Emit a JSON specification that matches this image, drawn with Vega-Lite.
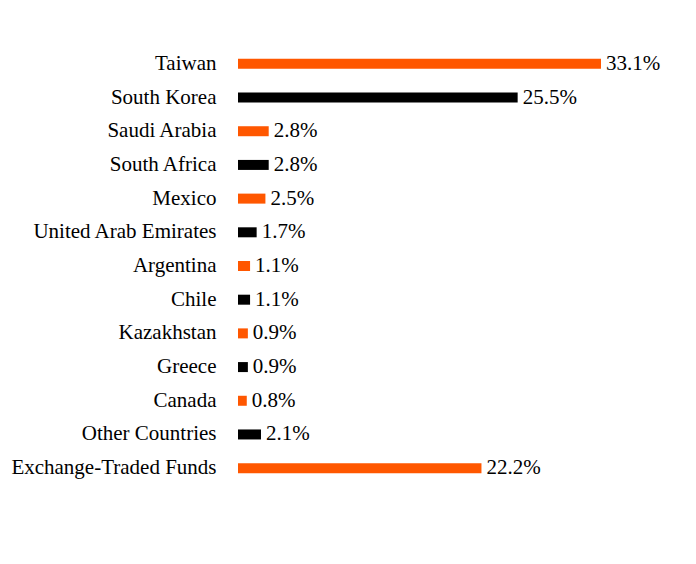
{
  "$schema": "https://vega.github.io/schema/vega-lite/v6.json",
  "autosize": "none",
  "width": 363,
  "height": 438,
  "padding": {"left": 238, "top": 47, "right": 95, "bottom": 79},
  "background": "white",
  "config": {"view": {"stroke": null}, "font": "Liberation Serif"},
  "data": {"values": [
    {"country": "Taiwan", "value": 0.331},
    {"country": "South Korea", "value": 0.255},
    {"country": "Saudi Arabia", "value": 0.028},
    {"country": "South Africa", "value": 0.028},
    {"country": "Mexico", "value": 0.025},
    {"country": "United Arab Emirates", "value": 0.017},
    {"country": "Argentina", "value": 0.011},
    {"country": "Chile", "value": 0.011},
    {"country": "Kazakhstan", "value": 0.009},
    {"country": "Greece", "value": 0.009},
    {"country": "Canada", "value": 0.008},
    {"country": "Other Countries", "value": 0.021},
    {"country": "Exchange-Traded Funds", "value": 0.222}
  ]},
  "encoding": {
    "y": {
      "field": "country", "type": "nominal", "sort": null, "title": null,
      "scale": {"paddingInner": 0, "paddingOuter": 0},
      "axis": {"domain": false, "ticks": false, "labelPadding": 22, "labelFontSize": 21, "labelFont": "Liberation Serif", "labelColor": "#000000", "labelLimit": 400}
    },
    "x": {
      "field": "value", "type": "quantitative",
      "scale": {"domain": [0, 0.331], "nice": false, "zero": true},
      "axis": null
    }
  },
  "layer": [
    {
      "mark": {"type": "bar", "size": 10},
      "encoding": {
        "color": {
          "field": "country", "type": "nominal", "legend": null,
          "scale": {
            "domain": ["Taiwan", "South Korea", "Saudi Arabia", "South Africa", "Mexico", "United Arab Emirates", "Argentina", "Chile", "Kazakhstan", "Greece", "Canada", "Other Countries", "Exchange-Traded Funds"],
            "range": ["#FF5700", "#000000", "#FF5700", "#000000", "#FF5700", "#000000", "#FF5700", "#000000", "#FF5700", "#000000", "#FF5700", "#000000", "#FF5700"]
          }
        }
      }
    },
    {
      "mark": {"type": "text", "align": "left", "baseline": "middle", "dx": 5, "fontSize": 21, "font": "Liberation Serif", "color": "#000000"},
      "encoding": {
        "text": {"field": "value", "type": "quantitative", "format": ".1%"}
      }
    }
  ]
}
